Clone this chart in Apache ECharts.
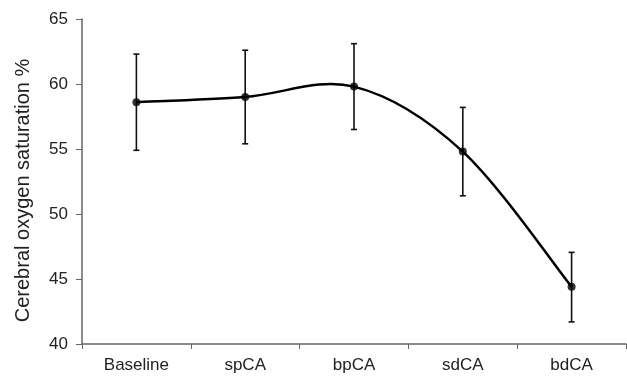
<!DOCTYPE html>
<html>
<head>
<meta charset="utf-8">
<script src="https://cdn.jsdelivr.net/npm/echarts@6/dist/echarts.min.js"></script>
<style>
  html, body { margin: 0; padding: 0; background: #fff; }
  #chart { width: 627px; height: 379px; }
</style>
</head>
<body>
<div id="chart"></div>
<script>
const categories = ['Baseline', 'spCA', 'bpCA', 'sdCA', 'bdCA']
const meanValues = [58.6, 59.0, 59.8, 54.8, 44.4]
const upperValues = [62.3, 62.6, 63.1, 58.2, 47.05]
const lowerValues = [54.9, 55.4, 56.5, 51.4, 41.7]
const yTicks = [40, 45, 50, 55, 60, 65]

const chart = echarts.init(document.getElementById('chart'))
const font = 'Liberation Sans, Arial, sans-serif'

const errorData = categories.map((c, i) => [i, lowerValues[i], upperValues[i]])
const meanData = meanValues.map((v, i) => [i, v])

// spreadsheet-style smoothed line: one cubic segment per pair of points
const curveItem = (params, api) => {
  const i = params.dataIndex
  const n = meanValues.length
  if (i >= n - 1) return null
  const pt = k => {
    const j = Math.min(Math.max(k, 0), n - 1)
    return api.coord([j, meanValues[j]])
  }
  const p0 = pt(i - 1), p1 = pt(i), p2 = pt(i + 1), p3 = pt(i + 2)
  return {
    type: 'bezierCurve',
    shape: {
      x1: p1[0], y1: p1[1],
      x2: p2[0], y2: p2[1],
      cpx1: p1[0] + (p2[0] - p0[0]) / 6, cpy1: p1[1] + (p2[1] - p0[1]) / 6,
      cpx2: p2[0] - (p3[0] - p1[0]) / 6, cpy2: p2[1] - (p3[1] - p1[1]) / 6
    },
    style: { stroke: '#000', lineWidth: 2.5, fill: null }
  }
}

const option = {
  animation: false,
  backgroundColor: '#fff',
  grid: { left: 82, right: 1, top: 19, bottom: 35 },
  xAxis: {
    type: 'category',
    data: categories,
    boundaryGap: true,
    axisLine: { lineStyle: { color: '#666', width: 1.5 } },
    axisTick: { show: true, length: 5, lineStyle: { color: '#666' } },
    axisLabel: { color: '#222', fontSize: 17, margin: 13, fontFamily: font }
  },
  yAxis: {
    type: 'value',
    min: yTicks[0],
    max: yTicks[yTicks.length - 1],
    interval: 5,
    name: 'Cerebral oxygen saturation %',
    nameLocation: 'middle',
    nameGap: 49,
    nameRotate: 90,
    nameTextStyle: { color: '#222', fontSize: 20, fontFamily: font, padding: [0, 18, 0, 0] },
    splitLine: { show: false },
    axisLine: { show: true, lineStyle: { color: '#666', width: 1.5 } },
    axisTick: { show: true, length: 6, lineStyle: { color: '#666' } },
    axisLabel: { color: '#222', fontSize: 17, margin: 14, fontFamily: font }
  },
  series: [
    {
      type: 'custom',
      data: errorData,
      z: 1,
      renderItem: (params, api) => {
        const x = api.value(0)
        const lo = api.coord([x, api.value(1)])
        const hi = api.coord([x, api.value(2)])
        const cap = 3
        const style = { stroke: '#111', lineWidth: 1.6 }
        return {
          type: 'group',
          children: [
            { type: 'line', shape: { x1: lo[0], y1: lo[1], x2: hi[0], y2: hi[1] }, style },
            { type: 'line', shape: { x1: hi[0] - cap, y1: hi[1], x2: hi[0] + cap, y2: hi[1] }, style },
            { type: 'line', shape: { x1: lo[0] - cap, y1: lo[1], x2: lo[0] + cap, y2: lo[1] }, style }
          ]
        }
      }
    },
    {
      type: 'custom',
      data: meanData,
      z: 2,
      renderItem: curveItem
    },
    {
      type: 'scatter',
      data: meanData,
      z: 3,
      symbol: 'circle',
      symbolSize: 8,
      itemStyle: { color: '#000' }
    }
  ]
}

chart.setOption(option)
</script>
</body>
</html>
